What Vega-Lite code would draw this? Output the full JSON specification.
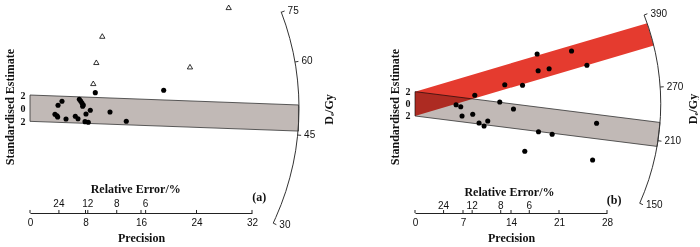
{
  "$schema": "https://vega.github.io/schema/vega-lite/v6.json",
  "autosize": {"type": "pad"},
  "padding": {"left": 3, "top": 0, "right": 0, "bottom": 0},
  "background": "white",
  "config": {"view": {"stroke": null}, "font": "Liberation Serif"},
  "bounds": "flush",
  "spacing": 163,
  "datasets": {
    "bandA": [{"x": 0, "hi": 2, "lo": -2}, {"x": 38.7, "hi": 0.49, "lo": -3.48}],
    "pointsA": [
      {"x": 9.41, "z": 2.36, "type": "circle"}, {"x": 19.27, "z": 2.72, "type": "circle"},
      {"x": 4.61, "z": 1.05, "type": "circle"}, {"x": 4.04, "z": 0.44, "type": "circle"},
      {"x": 7.11, "z": 1.35, "type": "circle"}, {"x": 7.30, "z": 1.09, "type": "circle"},
      {"x": 7.49, "z": 0.79, "type": "circle"}, {"x": 7.68, "z": 0.49, "type": "circle"},
      {"x": 7.59, "z": 0.29, "type": "circle"}, {"x": 8.69, "z": -0.32, "type": "circle"},
      {"x": 11.53, "z": -0.58, "type": "circle"}, {"x": 3.60, "z": -0.93, "type": "circle"},
      {"x": 3.89, "z": -1.14, "type": "circle"}, {"x": 3.99, "z": -1.34, "type": "circle"},
      {"x": 5.19, "z": -1.64, "type": "circle"}, {"x": 6.53, "z": -1.23, "type": "circle"},
      {"x": 6.92, "z": -1.60, "type": "circle"}, {"x": 8.07, "z": -0.88, "type": "circle"},
      {"x": 7.93, "z": -2.05, "type": "circle"}, {"x": 8.40, "z": -2.14, "type": "circle"},
      {"x": 13.88, "z": -1.99, "type": "circle"},
      {"x": 28.64, "z": 15.33, "type": "triangle"}, {"x": 10.42, "z": 10.97, "type": "triangle"},
      {"x": 9.56, "z": 6.98, "type": "triangle"}, {"x": 23.06, "z": 6.31, "type": "triangle"},
      {"x": 9.12, "z": 3.78, "type": "triangle"}
    ],
    "arcA": [
      {"i": 0, "x": 36.20, "z": 14.65}, {"i": 1, "x": 36.88, "z": 12.63}, {"i": 2, "x": 37.45, "z": 10.58},
      {"i": 3, "x": 37.93, "z": 8.50}, {"i": 4, "x": 38.30, "z": 6.39}, {"i": 5, "x": 38.56, "z": 4.27},
      {"i": 6, "x": 38.72, "z": 2.14}, {"i": 7, "x": 38.775, "z": 0}, {"i": 8, "x": 38.72, "z": -2.14},
      {"i": 9, "x": 38.56, "z": -4.27}, {"i": 10, "x": 38.30, "z": -6.39}, {"i": 11, "x": 37.93, "z": -8.50},
      {"i": 12, "x": 37.45, "z": -10.58}, {"i": 13, "x": 36.88, "z": -12.63}, {"i": 14, "x": 36.20, "z": -14.65},
      {"i": 15, "x": 35.42, "z": -16.63}, {"i": 16, "x": 35.06, "z": -17.47}
    ],
    "arcTicksA": [
      {"label": "75", "x1": 36.22, "z1": 14.58, "x2": 36.70, "z2": 14.77},
      {"label": "60", "x1": 38.20, "z1": 7.02, "x2": 38.69, "z2": 7.11},
      {"label": "45", "x1": 38.58, "z1": -4.08, "x2": 39.08, "z2": -4.13},
      {"label": "30", "x1": 35.06, "z1": -17.47, "x2": 35.51, "z2": -17.70}
    ],
    "axisTicksA": [{"p": 0}, {"p": 8}, {"p": 16}, {"p": 24}, {"p": 32}, {"p": 4.1667}, {"p": 8.3333}, {"p": 12.5}, {"p": 16.6667}],
    "relErr": [{"p": 4.1667, "label": "24"}, {"p": 8.3333, "label": "12"}, {"p": 12.5, "label": "8"}, {"p": 16.6667, "label": "6"}],
    "redB": [{"x": 0, "hi": 2, "lo": -2}, {"x": 33.85, "hi": 13.26, "lo": 9.26}, {"x": 34.82, "hi": 9.58, "lo": 9.58}],
    "grayB": [{"x": 0, "hi": 2, "lo": -2}, {"x": 35.31, "hi": -3.01, "lo": -7.01}, {"x": 35.73, "hi": -3.07, "lo": -3.07}],
    "pointsB": [
      {"x": 17.81, "z": 8.19}, {"x": 22.83, "z": 8.68}, {"x": 17.96, "z": 5.44}, {"x": 19.56, "z": 5.77},
      {"x": 25.07, "z": 6.33}, {"x": 13.09, "z": 3.14}, {"x": 15.68, "z": 3.04}, {"x": 8.72, "z": 1.40},
      {"x": 5.99, "z": -0.15}, {"x": 6.67, "z": -0.48}, {"x": 12.36, "z": 0.30}, {"x": 14.36, "z": -0.86},
      {"x": 6.86, "z": -2.01}, {"x": 8.42, "z": -1.73}, {"x": 9.34, "z": -3.16}, {"x": 10.07, "z": -3.65},
      {"x": 10.61, "z": -2.83}, {"x": 26.48, "z": -3.21}, {"x": 18.01, "z": -4.59}, {"x": 20.0, "z": -5.02},
      {"x": 16.01, "z": -7.81}, {"x": 25.90, "z": -9.24}
    ],
    "arcB": [
      {"i": 0, "x": 33.41, "z": 14.60}, {"i": 1, "x": 34.09, "z": 12.48}, {"i": 2, "x": 34.62, "z": 10.45},
      {"i": 3, "x": 35.06, "z": 8.39}, {"i": 4, "x": 35.40, "z": 6.32}, {"i": 5, "x": 35.64, "z": 4.22},
      {"i": 6, "x": 35.79, "z": 2.11}, {"i": 7, "x": 35.84, "z": 0}, {"i": 8, "x": 35.79, "z": -2.11},
      {"i": 9, "x": 35.64, "z": -4.22}, {"i": 10, "x": 35.40, "z": -6.32}, {"i": 11, "x": 35.06, "z": -8.39},
      {"i": 12, "x": 34.62, "z": -10.45}, {"i": 13, "x": 34.09, "z": -12.48}, {"i": 14, "x": 33.46, "z": -14.47},
      {"i": 15, "x": 32.77, "z": -16.36}
    ],
    "arcTicksB": [
      {"label": "390", "x1": 33.41, "z1": 14.60, "x2": 33.89, "z2": 14.81},
      {"label": "270", "x1": 35.76, "z1": 2.76, "x2": 36.27, "z2": 2.80},
      {"label": "210", "x1": 35.43, "z1": -6.07, "x2": 35.94, "z2": -6.15},
      {"label": "150", "x1": 32.77, "z1": -16.36, "x2": 33.24, "z2": -16.59}
    ],
    "axisTicksB": [{"p": 0}, {"p": 7}, {"p": 14}, {"p": 21}, {"p": 28}, {"p": 4.1667}, {"p": 8.3333}, {"p": 12.5}, {"p": 16.6667}]
  },
  "hconcat": [
    {
      "width": 222,
      "height": 213,
      "layer": [
        {
          "data": {"name": "bandA"},
          "mark": {"type": "area", "fill": "#c1b9b6", "stroke": "#333333", "strokeWidth": 0.8},
          "encoding": {
            "x": {"field": "x", "type": "quantitative", "scale": {"domain": [0, 32], "nice": false, "zero": false},
              "axis": {"values": [0, 8, 16, 24, 32], "title": "Precision", "ticks": false, "grid": false, "domainColor": "#222", "domainWidth": 1,
                "labelFont": "Liberation Sans", "labelFontSize": 10, "labelColor": "#111", "labelPadding": 4, "labelFlush": false,
                "titleFont": "Liberation Serif", "titleFontSize": 12, "titleFontWeight": "bold", "titleColor": "#111", "titlePadding": 5}},
            "y": {"field": "hi", "type": "quantitative", "scale": {"domain": [-15.93, 16.44], "nice": false, "zero": false},
              "axis": {"values": [-2, 0, 2], "labelExpr": "'' + abs(datum.value)", "title": "Standardised Estimate", "domain": false, "ticks": false, "grid": false,
                "labelFont": "Liberation Serif", "labelFontSize": 10, "labelFontWeight": "bold", "labelColor": "#111", "labelPadding": 5,
                "titleFont": "Liberation Serif", "titleFontSize": 12, "titleFontWeight": "bold", "titleColor": "#111", "titlePadding": 4}},
            "y2": {"field": "lo"}
          }
        },
        {
          "data": {"name": "axisTicksA"},
          "mark": {"type": "rule", "color": "#222", "strokeWidth": 1},
          "encoding": {"x": {"field": "p", "type": "quantitative"}, "y": {"datum": -15.93}, "y2": {"datum": -15.47}}
        },
        {
          "data": {"name": "relErr"},
          "mark": {"type": "text", "font": "Liberation Sans", "fontSize": 10, "color": "#111", "baseline": "middle"},
          "encoding": {"x": {"field": "p", "type": "quantitative"}, "y": {"datum": -14.56}, "text": {"field": "label"}}
        },
        {
          "data": {"values": [{"label": "Relative Error/%"}]},
          "mark": {"type": "text", "font": "Liberation Serif", "fontSize": 12, "fontWeight": "bold", "color": "#111", "baseline": "middle"},
          "encoding": {"x": {"datum": 15.24}, "y": {"datum": -12.28}, "text": {"field": "label"}}
        },
        {
          "data": {"values": [{"label": "(a)"}]},
          "mark": {"type": "text", "font": "Liberation Serif", "fontSize": 12, "fontWeight": "bold", "color": "#111", "baseline": "middle"},
          "encoding": {"x": {"datum": 33.05}, "y": {"datum": -13.5}, "text": {"field": "label"}}
        },
        {
          "data": {"name": "arcA"},
          "mark": {"type": "line", "color": "#333333", "strokeWidth": 1},
          "encoding": {"x": {"field": "x", "type": "quantitative"}, "y": {"field": "z", "type": "quantitative"}, "order": {"field": "i"}}
        },
        {
          "data": {"name": "arcTicksA"},
          "mark": {"type": "rule", "color": "#333333", "strokeWidth": 1},
          "encoding": {"x": {"field": "x1", "type": "quantitative"}, "y": {"field": "z1", "type": "quantitative"}, "x2": {"field": "x2"}, "y2": {"field": "z2"}}
        },
        {
          "data": {"name": "arcTicksA"},
          "mark": {"type": "text", "font": "Liberation Sans", "fontSize": 10, "color": "#111", "align": "left", "baseline": "middle", "dx": 3},
          "encoding": {"x": {"field": "x2", "type": "quantitative"}, "y": {"field": "z2", "type": "quantitative"}, "text": {"field": "label"}}
        },
        {
          "data": {"values": [{"label": "Dₑ/Gy"}]},
          "mark": {"type": "text", "font": "Liberation Serif", "fontSize": 12, "fontWeight": "bold", "color": "#111", "angle": 270, "align": "center", "baseline": "middle"},
          "encoding": {"x": {"datum": 43.14}, "y": {"datum": -0.2}, "text": {"field": "label"}}
        },
        {
          "data": {"name": "pointsA"},
          "transform": [{"filter": "datum.type === 'circle'"}],
          "mark": {"type": "point", "shape": "circle", "filled": true, "color": "#000", "size": 26, "opacity": 1},
          "encoding": {"x": {"field": "x", "type": "quantitative"}, "y": {"field": "z", "type": "quantitative"}}
        },
        {
          "data": {"name": "pointsA"},
          "transform": [{"filter": "datum.type === 'triangle'"}],
          "mark": {"type": "point", "shape": "triangle-up", "filled": false, "stroke": "#000", "strokeWidth": 0.8, "size": 28, "opacity": 1},
          "encoding": {"x": {"field": "x", "type": "quantitative"}, "y": {"field": "z", "type": "quantitative"}}
        }
      ]
    },
    {
      "width": 192,
      "height": 213,
      "layer": [
        {
          "data": {"name": "redB"},
          "mark": {"type": "area", "fill": "#e53b2f", "opacity": 1},
          "encoding": {
            "x": {"field": "x", "type": "quantitative", "scale": {"domain": [0, 28], "nice": false, "zero": false},
              "axis": {"values": [0, 7, 14, 21, 28], "title": "Precision", "ticks": false, "grid": false, "domainColor": "#222", "domainWidth": 1,
                "labelFont": "Liberation Sans", "labelFontSize": 10, "labelColor": "#111", "labelPadding": 4, "labelFlush": false,
                "titleFont": "Liberation Serif", "titleFontSize": 12, "titleFontWeight": "bold", "titleColor": "#111", "titlePadding": 5}},
            "y": {"field": "hi", "type": "quantitative", "scale": {"domain": [-17.96, 17.07], "nice": false, "zero": false},
              "axis": {"values": [-2, 0, 2], "labelExpr": "'' + abs(datum.value)", "title": "Standardised Estimate", "domain": false, "ticks": false, "grid": false,
                "labelFont": "Liberation Serif", "labelFontSize": 10, "labelFontWeight": "bold", "labelColor": "#111", "labelPadding": 5,
                "titleFont": "Liberation Serif", "titleFontSize": 12, "titleFontWeight": "bold", "titleColor": "#111", "titlePadding": 4}},
            "y2": {"field": "lo"}
          }
        },
        {
          "data": {"name": "grayB"},
          "mark": {"type": "area", "fill": "#c1b9b6", "stroke": "#333333", "strokeWidth": 0.8, "blend": "multiply"},
          "encoding": {"x": {"field": "x", "type": "quantitative"}, "y": {"field": "hi", "type": "quantitative"}, "y2": {"field": "lo"}}
        },
        {
          "data": {"name": "axisTicksB"},
          "mark": {"type": "rule", "color": "#222", "strokeWidth": 1},
          "encoding": {"x": {"field": "p", "type": "quantitative"}, "y": {"datum": -17.96}, "y2": {"datum": -17.47}}
        },
        {
          "data": {"name": "relErr"},
          "mark": {"type": "text", "font": "Liberation Sans", "fontSize": 10, "color": "#111", "baseline": "middle"},
          "encoding": {"x": {"field": "p", "type": "quantitative"}, "y": {"datum": -16.73}, "text": {"field": "label"}}
        },
        {
          "data": {"values": [{"label": "Relative Error/%"}]},
          "mark": {"type": "text", "font": "Liberation Serif", "fontSize": 12, "fontWeight": "bold", "color": "#111", "baseline": "middle"},
          "encoding": {"x": {"datum": 13.78}, "y": {"datum": -14.46}, "text": {"field": "label"}}
        },
        {
          "data": {"values": [{"label": "(b)"}]},
          "mark": {"type": "text", "font": "Liberation Serif", "fontSize": 12, "fontWeight": "bold", "color": "#111", "baseline": "middle"},
          "encoding": {"x": {"datum": 29.05}, "y": {"datum": -15.82}, "text": {"field": "label"}}
        },
        {
          "data": {"name": "arcB"},
          "mark": {"type": "line", "color": "#333333", "strokeWidth": 1},
          "encoding": {"x": {"field": "x", "type": "quantitative"}, "y": {"field": "z", "type": "quantitative"}, "order": {"field": "i"}}
        },
        {
          "data": {"name": "arcTicksB"},
          "mark": {"type": "rule", "color": "#333333", "strokeWidth": 1},
          "encoding": {"x": {"field": "x1", "type": "quantitative"}, "y": {"field": "z1", "type": "quantitative"}, "x2": {"field": "x2"}, "y2": {"field": "z2"}}
        },
        {
          "data": {"name": "arcTicksB"},
          "mark": {"type": "text", "font": "Liberation Sans", "fontSize": 10, "color": "#111", "align": "left", "baseline": "middle", "dx": 3},
          "encoding": {"x": {"field": "x2", "type": "quantitative"}, "y": {"field": "z2", "type": "quantitative"}, "text": {"field": "label"}}
        },
        {
          "data": {"values": [{"label": "Dₑ/Gy"}]},
          "mark": {"type": "text", "font": "Liberation Serif", "fontSize": 12, "fontWeight": "bold", "color": "#111", "angle": 270, "align": "center", "baseline": "middle"},
          "encoding": {"x": {"datum": 40.5}, "y": {"datum": -0.86}, "text": {"field": "label"}}
        },
        {
          "data": {"name": "pointsB"},
          "mark": {"type": "point", "shape": "circle", "filled": true, "color": "#000", "size": 26, "opacity": 1},
          "encoding": {"x": {"field": "x", "type": "quantitative"}, "y": {"field": "z", "type": "quantitative"}}
        }
      ]
    }
  ]
}
